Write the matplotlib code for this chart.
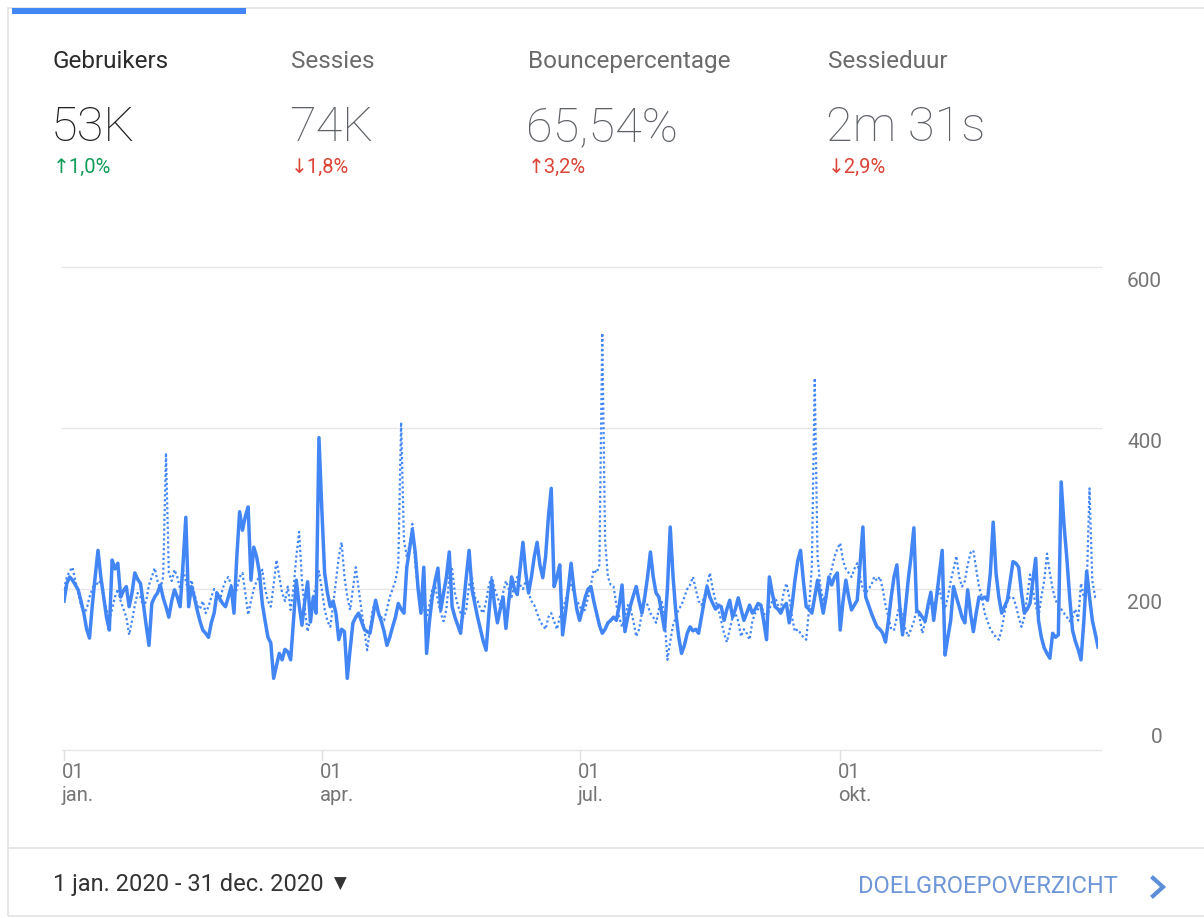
import numpy as np
import matplotlib
matplotlib.use('Agg')
import matplotlib.pyplot as plt
from matplotlib.patches import Rectangle
from matplotlib.lines import Line2D
from matplotlib.transforms import blended_transform_factory

plt.rcParams['font.family'] = ['Roboto', 'DejaVu Sans']

# header metrics
metric_names = ['Gebruikers', 'Sessies', 'Bouncepercentage', 'Sessieduur']
metric_values = ['53K', '74K', '65,54%', '2m 31s']
metric_changes = ['1,0%', '1,8%', '3,2%', '2,9%']
metric_up = [True, False, True, False]
metric_good = [True, False, False, False]

month_ticks = [0, 91, 182, 274]
month_days = ['01', '01', '01', '01']
month_names = ['jan.', 'apr.', 'jul.', 'okt.']
y_ticks = [0, 200, 400, 600]

date_range = '1 jan. 2020 - 31 dec. 2020'
link_text = 'DOELGROEPOVERZICHT'

# users per day, 1 jan 2020 - 31 dec 2020 (solid line)
users_2020 = [
    185, 207, 215, 211, 205, 199, 185, 170, 150, 139, 180, 215, 248, 215, 190, 165, 149, 236, 225, 232,
    190, 198, 203, 178, 195, 220, 212, 207, 182, 155, 130,
    182, 190, 195, 205, 189, 178, 165, 185, 199, 190, 178, 230, 289, 178, 203, 190, 174, 160, 149, 145,
    140, 158, 170, 195, 188, 182, 178, 190, 203,
    170, 240, 296, 273, 290, 302, 211, 252, 240, 220, 182, 160, 140, 133, 89, 105, 120, 112, 125, 122,
    112, 160, 211, 180, 155, 185, 209, 159, 190, 170, 388,
    300, 220, 195, 178, 185, 170, 137, 150, 147, 89, 125, 158, 165, 170, 160, 150, 147, 145, 165, 186,
    170, 160, 147, 130, 140, 153, 165, 182, 175, 170,
    227, 250, 273, 245, 200, 170, 227, 120, 160, 190, 210, 226, 174, 195, 215, 246, 178, 165, 155, 145,
    180, 215, 248, 200, 182, 165, 150, 135, 124, 170, 211,
    180, 158, 175, 190, 151, 185, 215, 200, 193, 225, 258, 220, 195, 215, 240, 258, 230, 214, 240, 290,
    325, 203, 215, 230, 143, 170, 200, 232, 200, 175,
    161, 175, 190, 200, 203, 185, 170, 155, 145, 150, 158, 161, 165, 161, 180, 205, 147, 165, 180, 192,
    203, 185, 170, 190, 215, 246, 215, 195, 190, 170, 149,
    200, 277, 215, 170, 140, 120, 130, 145, 153, 148, 150, 145, 165, 185, 203, 190, 182, 175, 180, 178,
    161, 175, 186, 165, 175, 189, 175, 161, 170, 180, 170,
    175, 182, 180, 160, 137, 215, 195, 178, 175, 170, 178, 182, 158, 180, 210, 235, 248, 210, 178, 175,
    170, 190, 211, 190, 170, 190, 215, 205, 215, 220,
    149, 185, 211, 190, 174, 180, 186, 230, 277, 190, 180, 170, 161, 153, 150, 145, 134, 160, 190, 215,
    230, 180, 143, 175, 211, 240, 276, 174, 170, 165, 160,
    180, 196, 161, 190, 220, 248, 118, 140, 161, 203, 190, 178, 165, 158, 199, 170, 147, 170, 190, 188,
    190, 186, 220, 283, 220, 190, 170, 178, 186, 210,
    234, 232, 227, 195, 170, 175, 182, 210, 238, 161, 140, 127, 120, 114, 145, 140, 143, 333, 280, 238,
    190, 149, 135, 125, 112, 160, 222, 190, 161, 145, 128,
]

# users per day, previous period (dotted line)
users_2019 = [
    200, 215, 222, 227, 210, 195, 180, 170, 175, 190, 200, 210, 205, 211, 190, 175, 161, 175, 190, 200,
    185, 175, 165, 143, 160, 180, 195, 190, 178, 185, 205,
    215, 226, 210, 200, 215, 369, 220, 210, 224, 215, 200, 225, 210, 195, 211, 195, 180, 175, 185, 170,
    178, 190, 200, 195, 185, 200, 210, 215, 205,
    190, 200, 215, 220, 195, 168, 185, 200, 210, 215, 224, 200, 185, 178, 205, 236, 215, 195, 185, 203,
    174, 200, 240, 271, 210, 175, 147, 165, 190, 205, 222,
    200, 175, 160, 153, 180, 210, 240, 258, 215, 190, 174, 200, 227, 200, 174, 150, 124, 150, 175, 185,
    170, 165, 161, 175, 190, 200, 210, 230, 407, 261,
    240, 255, 281, 230, 200, 185, 175, 165, 180, 200, 205, 185, 170, 160, 175, 215, 225, 195, 180, 170,
    165, 175, 205, 215, 190, 185, 175, 170, 185, 205, 215,
    200, 190, 180, 195, 210, 200, 190, 205, 215, 205, 200, 210, 195, 185, 180, 170, 160, 155, 150, 165,
    170, 160, 150, 165, 175, 185, 200, 205, 195, 185,
    180, 170, 175, 190, 205, 224, 220, 230, 518, 260, 215, 205, 203, 180, 165, 153, 165, 180, 175, 160,
    141, 150, 170, 185, 180, 170, 165, 158, 175, 185, 165,
    112, 135, 155, 165, 175, 180, 190, 200, 205, 215, 200, 185, 180, 190, 205, 220, 200, 185, 175, 160,
    145, 134, 150, 165, 170, 160, 141, 150, 145, 137, 160,
    170, 175, 180, 170, 165, 175, 185, 190, 180, 175, 195, 207, 190, 165, 147, 150, 145, 140, 137, 175,
    230, 462, 240, 203, 185, 195, 210, 225, 240, 250,
    257, 235, 225, 220, 215, 225, 232, 215, 200, 195, 200, 205, 215, 210, 215, 200, 180, 165, 150, 149,
    165, 180, 165, 150, 141, 150, 160, 175, 165, 145, 160,
    175, 185, 180, 190, 200, 185, 175, 190, 210, 225, 241, 215, 203, 210, 230, 245, 248, 225, 203, 190,
    170, 160, 150, 145, 140, 137, 150, 170, 185, 190,
    190, 180, 165, 153, 165, 190, 218, 200, 180, 165, 190, 210, 244, 220, 200, 186, 180, 175, 170, 165,
    160, 165, 175, 161, 207, 190, 200, 325, 210, 190, 190,
]

W, H = 1204, 918
blue = '#4285f4'


def fx(px):
    return px / W


def fy(py):
    return 1 - py / H


fig = plt.figure(figsize=(W / 100, H / 100), dpi=100)
fig.patch.set_facecolor('white')

# card frame, active tab bar, footer separator
fig.add_artist(Rectangle((fx(8), fy(916)), fx(1204), (916 - 8) / H, transform=fig.transFigure,
                         fill=False, edgecolor='#e3e3e3', lw=1.2))
fig.add_artist(Rectangle((fx(12), fy(14)), fx(234), 6 / H, transform=fig.transFigure,
                         facecolor=blue, edgecolor='none'))
fig.add_artist(Line2D([fx(8), 1], [fy(848), fy(848)], transform=fig.transFigure,
                      color='#e3e3e3', lw=1.2))

# metric header
xs = [53, 291, 528, 828]
for i in range(4):
    active = i == 0
    fig.text(fx(xs[i]), fy(68), metric_names[i], fontsize=17.5, va='baseline', ha='left',
             color='#2b2b2b' if active else '#6b6b6b')
    fig.text(fx(xs[i] - 2), fy(141), metric_values[i], fontsize=35, va='baseline', ha='left',
             color='#212121' if active else '#5f6368', fontweight='light')
    col = '#0f9d58' if metric_good[i] else '#db4437'
    arrow = '\u2191' if metric_up[i] else '\u2193'
    fig.text(fx(xs[i]), fy(173), arrow + metric_changes[i], fontsize=14.5, va='baseline',
             ha='left', color=col)

# chart
ax = fig.add_axes([fx(64), fy(750), fx(1098 - 64), (750 - 267) / H])
days = np.arange(len(users_2020))
ax.plot(np.arange(len(users_2019)), users_2019, color=blue, lw=1.6, linestyle=(0, (1, 1.2)),
        zorder=2)
ax.plot(days, users_2020, color=blue, lw=2.5, solid_joinstyle='round', zorder=3)
ax.set_xlim(0, 365)
ax.set_ylim(0, 600)
for s in ax.spines.values():
    s.set_visible(False)
ax.set_yticks([])
ax.set_xticks(month_ticks)
ax.set_xticklabels([])
ax.tick_params(axis='x', length=8, width=1, color='#e0e0e0')
for v in y_ticks:
    ax.axhline(v, xmin=-0.002, xmax=1.003, color='#e6e6e6', lw=1, zorder=1, clip_on=False)

trans = blended_transform_factory(fig.transFigure, ax.transData)
for v in y_ticks:
    off = 7 if v == 0 else -20
    ax.annotate(str(v), xy=(fx(1162), v), xycoords=trans, xytext=(0, off),
                textcoords='offset pixels', ha='right', va='baseline', fontsize=15,
                color='#757575')

for t, d, m in zip(month_ticks, month_days, month_names):
    ax.annotate(d, xy=(t, 0), xycoords='data', xytext=(-2, -28), textcoords='offset pixels',
                ha='left', va='baseline', fontsize=14.5, color='#757575')
    ax.annotate(m, xy=(t, 0), xycoords='data', xytext=(-2, -51), textcoords='offset pixels',
                ha='left', va='baseline', fontsize=14.5, color='#757575')

# footer
fig.text(fx(53), fy(891), date_range, fontsize=17, va='baseline', ha='left', color='#333333')
fig.text(fx(334), fy(889), '\u25bc', fontsize=12, va='baseline', ha='left', color='#333333')
fig.text(fx(858), fy(893), link_text, fontsize=17, va='baseline', ha='left', color='#6f96d6')
fig.add_artist(Line2D([fx(1153), fx(1163), fx(1153)], [fy(878), fy(887), fy(896)],
                      transform=fig.transFigure, color='#5d8fd8', lw=3,
                      solid_joinstyle='miter'))

fig.savefig('out.png', dpi=100, facecolor='white')
